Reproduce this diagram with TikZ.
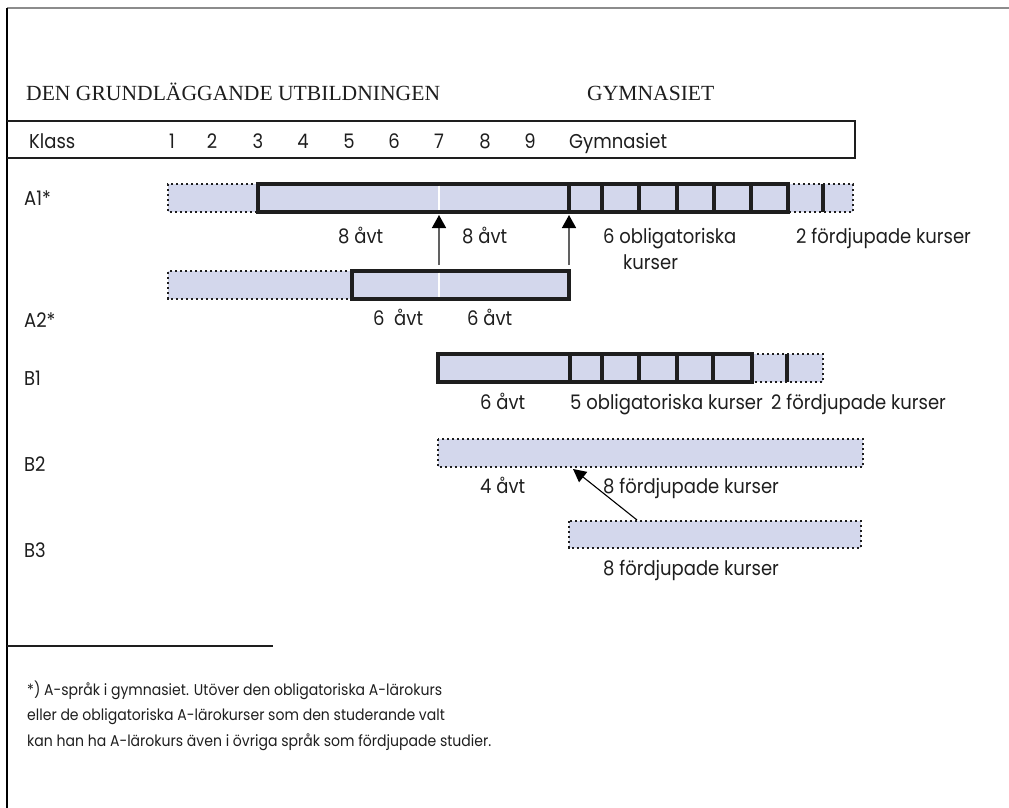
\documentclass[tikz,border=0pt]{standalone}
\usepackage{fontspec}
\setmainfont[FakeStretch=0.9]{Poppins}
\newfontfamily\headfont{Liberation Serif}
\usetikzlibrary{arrows.meta}
\definecolor{barfill}{RGB}{211,215,236}
\definecolor{ink}{RGB}{30,30,30}
\begin{document}
\begin{tikzpicture}[x=1pt,y=-1pt,
  lbl/.style={inner sep=0pt, anchor=base west, font=\fontsize{20}{24}\selectfont, text=ink},
  num/.style={inner sep=0pt, anchor=base, font=\fontsize{20}{24}\selectfont, text=ink},
  head/.style={inner sep=0pt, anchor=base west, font=\headfont\fontsize{21.6}{25}\selectfont, text=ink},
  foot/.style={inner sep=0pt, anchor=base west, font=\fontsize{15.6}{18}\selectfont, text=ink},
  dotb/.style={draw=ink, line width=2.1pt, dash pattern=on 2.1pt off 2.9pt},
  solidb/.style={draw=ink, line width=3.1pt},
  divln/.style={draw=ink, line width=3.2pt},
  whiteln/.style={draw=white, line width=2pt},
  uparr/.style={draw=black!62, line width=1.5pt, -{Triangle[width=14pt,length=13pt,color=black]}},
  diagarr/.style={draw=black, line width=1.1pt, -{Triangle[width=13pt,length=13pt,color=black]}}]
\useasboundingbox (0,0) rectangle (1009,808);
% frame
\draw[black!45, line width=1.5pt] (7,8) -- (1009,8);
\draw[black, line width=1.5pt] (7,8) -- (7,808);
% header box
\draw[ink, line width=1.2pt] (7,121) -- (855,121) -- (855,158) -- (7,158);
\node[head] (hgu) at (26,100) {DEN GRUNDLÄGGANDE UTBILDNINGEN};
\node[head] (hgy) at (587,100) {GYMNASIET};
\node[lbl] (klass) at (29,148) {Klass};
\foreach \x/\n [count=\i] in {172/1,212/2,258/3,303/4,349/5,394/6,439/7,485/8,530/9}
  \node[num] (k\i) at (\x,148) {\n};
\node[lbl] (kg) at (569,148) {Gymnasiet};
% row labels
\node[lbl] (la1) at (24,205.5) {A1*};
\node[lbl] (la2) at (24,327) {A2*};
\node[lbl] (lb1) at (24,385) {B1};
\node[lbl] (lb2) at (24,471) {B2};
\node[lbl] (lb3) at (24,557) {B3};
% A1 bar
\fill[barfill] (168,184) rectangle (853,212);
\draw[dotb] (258,184) -- (168,184) -- (168,212) -- (258,212);
\draw[dotb] (788,184) -- (853,184) -- (853,212) -- (788,212);
\draw[solidb] (258,184) rectangle (788,212);
\draw[whiteln] (439,185.7) -- (439,210.3);
\foreach \x in {569,602,639,677,714,751,823} \draw[divln] (\x,184) -- (\x,212);
% A2 bar
\fill[barfill] (168,271) rectangle (569,299);
\draw[dotb] (352,271) -- (168,271) -- (168,299) -- (352,299);
\draw[solidb] (352,271) rectangle (569,299);
\draw[whiteln] (439,272.7) -- (439,297.3);
% arrows A2 -> A1
\coordinate (a1s) at (439,265);
\coordinate (a1e) at (439,215);
\coordinate (a2s) at (569,265);
\coordinate (a2e) at (569,215);
\draw[uparr] (a1s) -- (a1e);
\draw[uparr] (a2s) -- (a2e);
% A1 labels
\node[lbl] (t1) at (338,243) {8 åvt};
\node[lbl] (t2) at (462,243) {8 åvt};
\node[lbl] (t3) at (603,243) {6 obligatoriska};
\node[lbl] (t4) at (623,269) {kurser};
\node[lbl] (t5) at (796,243) {2 fördjupade kurser};
% A2 labels
\node[lbl] (t6) at (373,325) {6\ \ åvt};
\node[lbl] (t7) at (467,325) {6 åvt};
% B1 bar
\fill[barfill] (438,354) rectangle (823,382);
\draw[dotb] (752,354) -- (823,354) -- (823,382) -- (752,382);
\draw[solidb] (438,354) rectangle (752,382);
\foreach \x in {570,602,639,677,713,787} \draw[divln] (\x,354) -- (\x,382);
\node[lbl] (t8) at (480,409) {6 åvt};
\node[lbl] (t9) at (570,409) {5 obligatoriska kurser};
\node[lbl] (t10) at (771,409) {2 fördjupade kurser};
% B2 bar
\fill[barfill] (438,439) rectangle (863,467);
\draw[dotb] (438,439) rectangle (863,467);
\node[lbl] (t11) at (480,493) {4 åvt};
\node[lbl] (t12) at (603,493) {8 fördjupade kurser};
% B3 bar
\fill[barfill] (569,521) rectangle (861,548);
\draw[dotb] (569,521) rectangle (861,548);
\node[lbl] (t13) at (603,575) {8 fördjupade kurser};
% B3 -> B2 arrow
\coordinate (b3s) at (637,520);
\coordinate (b2e) at (573,469);
\draw[diagarr] (b3s) -- (b2e);
% footnote
\draw[ink, line width=1.2pt] (7,646) -- (273,646);
\node[foot] (f1) at (27,695) {*) A-språk i gymnasiet. Utöver den obligatoriska A-lärokurs};
\node[foot] (f2) at (27,720) {eller de obligatoriska A-lärokurser som den studerande valt};
\node[foot] (f3) at (27,746) {kan han ha A-lärokurs även i övriga språk som fördjupade studier.};
\end{tikzpicture}
\end{document}
